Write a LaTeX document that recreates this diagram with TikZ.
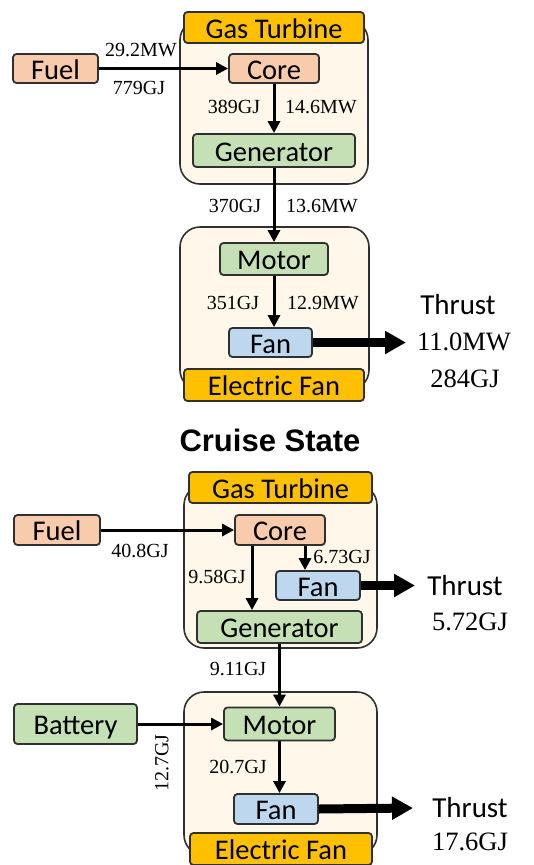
\documentclass[tikz,border=0pt]{standalone}
\usepackage{fontspec}
\setmainfont{Carlito}
\newfontfamily\numfont{Liberation Serif}
\newfontfamily\headfont{Liberation Sans}
\usetikzlibrary{arrows.meta,positioning,calc}
\definecolor{peach}{HTML}{F8CBAD}
\definecolor{leaf}{HTML}{C5E0B4}
\definecolor{sky}{HTML}{BDD7EE}
\definecolor{amber}{HTML}{FFC000}
\definecolor{cream}{HTML}{FFF8EA}
\definecolor{edge}{HTML}{303030}
\tikzset{
  blk/.style={draw=edge,line width=1.8pt,rounded corners=3.5pt,inner sep=0pt,
              font=\fontsize{28.5}{30}\selectfont,text height=21pt,text depth=0pt},
  tag/.style={blk,fill=amber},
  casing/.style={draw=edge,line width=1.6pt,fill=cream,rounded corners=20pt,inner sep=0pt},
  num/.style={inner sep=0pt,font=\numfont\fontsize{20}{22}\selectfont},
  bignum/.style={inner sep=0pt,font=\numfont\fontsize{26.5}{28}\selectfont},
  lbl/.style={inner sep=0pt,font=\fontsize{29}{30}\selectfont},
  flow/.style={line width=3pt,line cap=butt,-{Triangle[length=12pt,width=12pt]}},
  thrust/.style={line width=9pt,line cap=butt,-{Triangle[length=21pt,width=22pt]}},
  every picture/.style={line cap=round,line join=round}}
\begin{document}
\begin{tikzpicture}[x=1pt,y=-1pt]
  \useasboundingbox (0,0) rectangle (534,865);
  \clip (0,0) rectangle (534,865);
  \node[casing,minimum width=188pt,minimum height=164pt] (gt1box) at (274,102){};
  \node[casing,minimum width=189pt,minimum height=163pt] (ef1box) at (274.5,308.5){};
  \node[tag,minimum width=180pt,minimum height=31pt] (gt1tag) at (274,27.5){Gas Turbine};
  \node[tag,minimum width=180pt,minimum height=32pt] (ef1tag) at (274,385){Electric Fan};
  \node[blk,fill=peach,minimum width=85pt,minimum height=29pt] (fuel1) at (55.5,68.5){Fuel};
  \node[blk,fill=peach,minimum width=90pt,minimum height=29pt] (core1) at (274,68.5){Core};
  \node[blk,fill=leaf,minimum width=162pt,minimum height=33pt] (gen1) at (274,150.5){Generator};
  \node[blk,fill=leaf,minimum width=108pt,minimum height=32pt] (mot1) at (274,259){Motor};
  \node[blk,fill=sky,minimum width=83pt,minimum height=29pt] (fan1) at (270.5,342.5){Fan};
  \coordinate (out1) at (406,342.5);
  \draw[flow] (fuel1.east)--(core1.west);
  \draw[flow] (core1.south)--(gen1.north);
  \draw[flow] (gen1.south)--(mot1.north);
  \draw[flow] (mot1.south)--(mot1.south |- fan1.north);
  \draw[thrust] (fan1.east)--(out1);
  \node[num] (a1) at (141,50){29.2MW};\node[num] (a2) at (139,88){779GJ};
  \node[num] (a3) at (234,107){389GJ};\node[num] (a4) at (321,107){14.6MW};
  \node[num] (a5) at (235,206){370GJ};\node[num] (a6) at (322,206){13.6MW};
  \node[num] (a7) at (233,303){351GJ};\node[num] (a8) at (323,303){12.9MW};
  \node[lbl] (th1) at (458,305){Thrust};
  \node[bignum] (a9) at (464,342){11.0MW};\node[bignum] (a10) at (465,379){284GJ};
  \node[font=\headfont\bfseries\fontsize{31}{33}\selectfont,inner sep=0pt] (cruise) at (270,440){Cruise State};
  \begin{scope}
    \node[casing,minimum width=193pt,minimum height=163pt] (gt2box) at (280.5,566.5){};
    \node[casing,minimum width=193pt,minimum height=163pt] (ef2box) at (280.5,773.5){};
    \node[tag,minimum width=183pt,minimum height=31pt] (gt2tag) at (280.5,487.5){Gas Turbine};
    \node[tag,minimum width=182pt,minimum height=32pt] (ef2tag) at (281,849){Electric Fan};
    \node[blk,fill=peach,minimum width=86pt,minimum height=30pt] (fuel2) at (57,530){Fuel};
    \node[blk,fill=peach,minimum width=90pt,minimum height=30pt] (core2) at (280,530){Core};
    \node[blk,fill=sky,minimum width=84pt,minimum height=29pt] (fan2a) at (318,585.5){Fan};
    \node[blk,fill=leaf,minimum width=165pt,minimum height=32pt] (gen2) at (279.5,627){Generator};
    \node[blk,fill=leaf,minimum width=123pt,minimum height=40pt] (bat2) at (75.5,724){Battery};
    \node[blk,fill=leaf,minimum width=111pt,minimum height=33pt] (mot2) at (279.5,724){Motor};
    \node[blk,fill=sky,minimum width=84pt,minimum height=30pt] (fan2b) at (276,809){Fan};
    \coordinate (out2) at (415,585.5);\coordinate (out3) at (413,808);
    \draw[flow] (fuel2.east)--(core2.west);
    \draw[flow] ([xshift=-28pt]core2.south)--([xshift=-28pt]core2.south |- gen2.north);
    \draw[flow] ([xshift=25pt]core2.south)--([xshift=25pt]core2.south |- fan2a.north);
    \draw[flow] (gen2.south)--(mot2.north);
    \draw[flow] (bat2.east)--(mot2.west);
    \draw[flow] (mot2.south)--(mot2.south |- fan2b.north);
    \draw[thrust] (fan2a.east)--(out2);
    \draw[thrust] (fan2b.east)--(out3);
    \node[num] (b1) at (140,551){40.8GJ};\node[num] (b2) at (217,577){9.58GJ};
    \node[num] (b3) at (342,557){6.73GJ};\node[num] (b4) at (238,669){9.11GJ};
    \node[num,rotate=90] (b5) at (162,763){12.7GJ};\node[num] (b6) at (238,767){20.7GJ};
    \node[lbl] (th2) at (465,586){Thrust};\node[bignum] (b7) at (470,622){5.72GJ};
    \node[lbl] (th3) at (470,808){Thrust};\node[bignum] (b8) at (470,842){17.6GJ};
  \end{scope}
\end{tikzpicture}
\end{document}
